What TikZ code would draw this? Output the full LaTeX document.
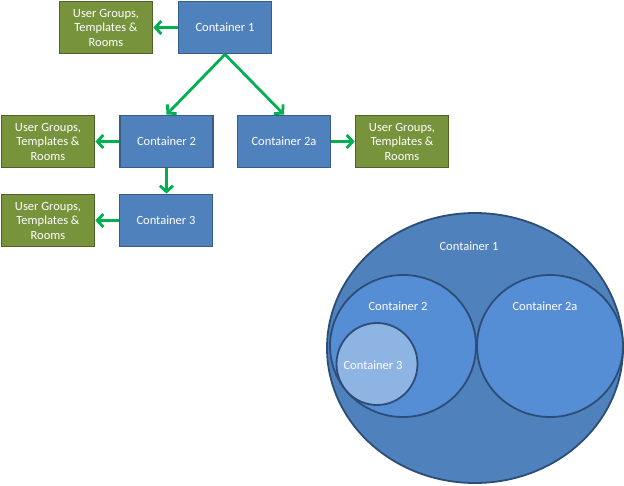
\documentclass[tikz,border=0pt]{standalone}
\usepackage{fontspec}
\setmainfont{Carlito}
\usetikzlibrary{arrows.meta}
\definecolor{boxblue}{HTML}{4F81BD}
\definecolor{boxblueline}{HTML}{385D8A}
\definecolor{boxgreen}{HTML}{77933C}
\definecolor{boxgreenline}{HTML}{4F6228}
\definecolor{arrowgreen}{HTML}{00B050}
\definecolor{circA}{HTML}{4F81BD}
\definecolor{circB}{HTML}{558ED5}
\definecolor{circC}{HTML}{8EB4E3}
\definecolor{circline}{HTML}{2C4D75}
\tikzset{
  cbox/.style={draw=boxblueline, fill=boxblue, line width=1.8pt, minimum width=93pt, minimum height=52pt, inner sep=0pt, text=white, font=\fontsize{12.5}{14.5}\selectfont},
  gbox/.style={cbox, draw=boxgreenline, fill=boxgreen, align=center},
  garrow/.style={draw=arrowgreen, line width=2.8pt, -{Straight Barb[length=6pt,width=13pt,line width=2.8pt]}},
  circ/.style={draw=circline, line width=1.8pt},
  clabel/.style={text=white, font=\fontsize{12.5}{14.5}\selectfont}
}
\begin{document}
\begin{tikzpicture}[x=1pt,y=-1pt]
\useasboundingbox (0,0) rectangle (624,485);
% boxes
\node[cbox] (c1) at (225,27.5) {Container 1};
\node[gbox] (g1) at (106,27.5) {User Groups,\\Templates \&\\Rooms};
\node[cbox] (c2) at (166.5,141.5) {Container 2};
\node[cbox] (c2a) at (284,141.5) {Container 2a};
\node[gbox] (g2) at (48,141.5) {User Groups,\\Templates \&\\Rooms};
\node[gbox] (g2a) at (402,141.5) {User Groups,\\Templates \&\\Rooms};
\node[cbox] (c3) at (166,220.5) {Container 3};
\node[gbox] (g3) at (48,220.5) {User Groups,\\Templates \&\\Rooms};
% arrows
\draw[garrow] (c1.west) -- (g1.east);
\draw[garrow] (c1.south) -- (c2.north);
\draw[garrow] (c1.south) -- (c2a.north);
\draw[garrow] (c2.west) -- (g2.east);
\draw[garrow] (c2a.east) -- (g2a.west);
\draw[garrow] (c2.south) -- (c3.north -| c2.south);
\draw[garrow] (c3.west) -- (g3.east);
% circles
\draw[circ, fill=circA] (475,348) ellipse [x radius=148, y radius=135];
\draw[circ, fill=circB] (403,346) ellipse [x radius=73, y radius=71];
\draw[circ, fill=circB] (550,346) ellipse [x radius=73, y radius=71];
\draw[circ, fill=circC] (377,364) ellipse [x radius=40.5, y radius=41];
\node[clabel] (l1) at (469,246) {Container 1};
\node[clabel] (l2) at (398,306) {Container 2};
\node[clabel] (l2a) at (545,306) {Container 2a};
\node[clabel] (l3) at (373,365) {Container 3};
\end{tikzpicture}
\end{document}
